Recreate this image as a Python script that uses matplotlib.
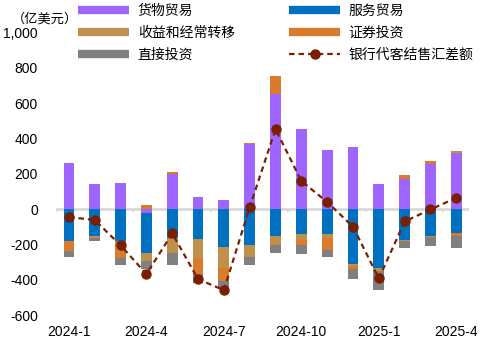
import numpy as np
import matplotlib
matplotlib.use("Agg")
import matplotlib.pyplot as plt
from matplotlib.lines import Line2D

plt.rcParams['font.family'] = ['Liberation Sans', 'Noto Sans CJK SC']
plt.rcParams['axes.unicode_minus'] = False

months = ["2024-1", "2024-2", "2024-3", "2024-4", "2024-5", "2024-6",
          "2024-7", "2024-8", "2024-9", "2024-10", "2024-11", "2024-12",
          "2025-1", "2025-2", "2025-3", "2025-4"]

goods = [260, 142, 147, -21, 198, 68, 51, 370, 653, 453, 334, 350, 141, 170, 254, 317]
services = [-181, -153, -181, -226, -162, -170, -215, -204, -151, -140, -140, -312, -336, -176, -151, -136]
income = [0, -11, 0, -48, -89, -106, -119, -68, -53, -36, -23, -10, -14, -5, -5, 12]
securities = [-57, 0, -97, 25, 12, -92, -74, 6, 102, -28, -69, -18, 0, 23, 17, -15]
direct = [-32, -16, -36, -45, -66, -49, -41, -45, -44, -49, -38, -55, -109, -37, -51, -68]
net_settle = [-45, -62, -205, -368, -138, -397, -459, 11, 453, 159, 40, -100, -393, -70, -2, 64]

series = [
    ("货物贸易", goods, "#9e66ff"),
    ("服务贸易", services, "#0070c0"),
    ("收益和经常转移", income, "#bf8f4c"),
    ("证券投资", securities, "#d97b2a"),
    ("直接投资", direct, "#808080"),
]
line_color = "#7a1f00"

x = np.arange(len(months))
fig = plt.figure(figsize=(4.85, 3.43), dpi=100)
ax = fig.add_axes([0.1155, 0.0816, 0.852, 0.8234])

pos_bottom = np.zeros(len(months))
neg_bottom = np.zeros(len(months))
for name, vals, col in series:
    v = np.array(vals, dtype=float)
    bottom = np.where(v >= 0, pos_bottom, neg_bottom)
    ax.bar(x, v, width=0.42, bottom=bottom, color=col, linewidth=0, zorder=2)
    pos_bottom += np.where(v >= 0, v, 0)
    neg_bottom += np.where(v < 0, v, 0)

# zero line with small category-group ticks
ax.axhline(0, color="#d9d9d9", lw=2, zorder=1)
ax.vlines(np.arange(-0.5, len(months) - 1, 3), -17, 0, color="#d9d9d9", lw=1.5, zorder=1)

ax.plot(x, net_settle, color=line_color, lw=1.6, ls=(0, (2.5, 1.8)),
        marker="o", markersize=6.5, markerfacecolor=line_color,
        markeredgecolor=line_color, zorder=3)

ax.set_xlim(-0.5, len(months) - 0.5)
ax.set_ylim(-600, 1000)
ax.set_yticks(np.arange(-600, 1001, 200))
ax.set_yticklabels([f"{v:,}" for v in range(-600, 1001, 200)])
ax.set_xticks(x[::3])
ax.set_xticklabels(months[::3])
ax.tick_params(axis="both", length=0, labelsize=10, colors="black")
ax.tick_params(axis="x", pad=7)
ax.tick_params(axis="y", pad=13)
for s in ax.spines.values():
    s.set_visible(False)

fig.text(0.025, 0.945, "（亿美元）", fontsize=9.5, va="center", ha="left")

handles = [
    Line2D([], [], color=series[0][2], lw=6, solid_capstyle="butt"),
    Line2D([], [], color=series[2][2], lw=6, solid_capstyle="butt"),
    Line2D([], [], color=series[4][2], lw=6, solid_capstyle="butt"),
    Line2D([], [], color=series[1][2], lw=6, solid_capstyle="butt"),
    Line2D([], [], color=series[3][2], lw=6, solid_capstyle="butt"),
    Line2D([], [], color=line_color, lw=1.6, ls=(0, (2.5, 1.8)), marker="o",
           markersize=6.5, markerfacecolor=line_color, markeredgecolor=line_color),
]
labels = ["货物贸易", "收益和经常转移", "直接投资", "服务贸易", "证券投资", "银行代客结售汇差额"]
fig.legend(handles, labels, loc="upper left", bbox_to_anchor=(0.135, 1.025),
           ncol=2, frameon=False, fontsize=10, handlelength=3.7,
           handletextpad=0.6, columnspacing=3.9, labelspacing=0.58)

fig.savefig("out.png", dpi=100)
